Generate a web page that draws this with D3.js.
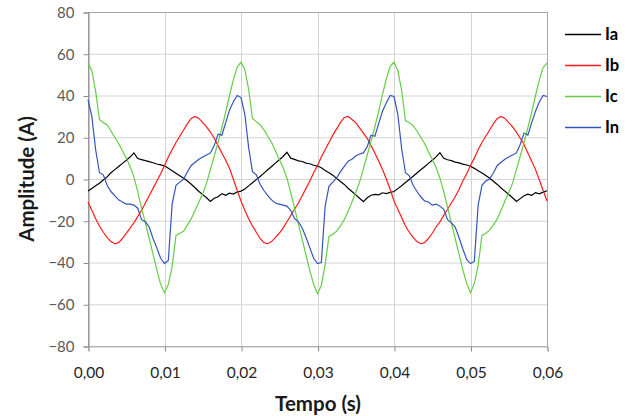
<!DOCTYPE html>
<html>
<head>
<meta charset="utf-8">
<script src="https://cdn.jsdelivr.net/npm/d3@7"></script>
<style>
  body { margin: 0; background: #fff; }
  svg { display: block; }
  text { font-family: Lato, "Liberation Sans", sans-serif; }
</style>
</head>
<body>
<div id="chart"></div>
<script>
// 数据 (t = 0 .. 0.06 s, passo 0.0005 s)
var tempo = d3.range(0, 121).map(function (i) { return i * 0.0005; });

var seriesNames = ['Ia', 'Ib', 'Ic', 'In'];
var seriesColors = ['#000000', '#ff1a1a', '#66cc44', '#3355bd'];

var ia = [
  -5.8, -4.5, -3.2, -2, -0.5, 1, 3, 4.5, 6, 7.5, 9, 10.5, 12.5, 9.8, 9.3, 8.8, 8.3, 7.8, 7.2, 6.8,
  6.3, 5.2, 4, 2.8, 1.6, 0.4, -1, -2.5, -4.2, -6, -7.5, -9, -10.8, -9.2, -8.5, -7, -7.8, -6.8, -7.2, -6.2,
  -5.8, -4.8, -3.3, -1.8, -0.3, 1.2, 2.8, 4.4, 6, 7.6, 9.2, 10.8, 12.8, 10, 9.4, 8.7, 8.4, 7.6, 7.3, 6.6,
  6.2, 5.4, 4.1, 3, 1.8, 0.3, -1.2, -2.6, -4.4, -6, -7.6, -9.2, -10.9, -9, -7.8, -7.4, -7.6, -6.6, -7, -6.4,
  -6, -4.6, -3.2, -1.7, -0.2, 1.3, 2.9, 4.4, 5.9, 7.5, 9, 10.6, 12.6, 9.9, 9.2, 8.8, 8.1, 7.7, 7.1, 6.7,
  6.1, 5.1, 4, 2.9, 1.7, 0.4, -1.1, -2.6, -4.3, -5.8, -7.4, -9, -10.8, -9.4, -8, -7.3, -7.8, -6.5, -7.1, -6.3,
  -5.6
];
var ib = [
  -11, -15, -19, -22.5, -25.5, -28, -30, -31, -30.5, -28.5, -26, -23.5, -21, -18, -15, -11.5, -8, -4.5, -1, 2.5,
  6.5, 10.5, 14, 17.5, 20.5, 23.5, 26.5, 29, 30, 29, 27, 25, 22.5, 19.5, 16, 12.5, 9, 5, 0, -5.5,
  -10.5, -15, -19, -22.5, -25.5, -28.5, -30.5, -31, -30, -28, -26, -23.5, -20.5, -17.5, -14.5, -11.5, -8, -4.5, -1, 3,
  6.5, 10.5, 14, 17.5, 21, 24, 27, 29.5, 30, 28.5, 27, 24.5, 22, 19.5, 16, 12.5, 8.5, 4.5, 0, -5,
  -10.5, -14.5, -18.5, -22.5, -25.5, -28, -30, -31, -30.5, -28.5, -26, -23, -20.5, -17.5, -14.5, -11.5, -8.5, -5, -1, 2.5,
  6.5, 10, 14, 17.5, 20.5, 23.5, 26.5, 29, 30, 29, 27, 25, 22.5, 19.5, 16.5, 12.5, 8.5, 4.5, -0.5, -5.5,
  -10.5
];
var ic = [
  55.5, 52, 42, 28.5, 27, 26, 23, 20, 17, 13.5, 10, 6, 1, -6, -14, -21, -28.5, -36, -43.5, -50.5,
  -54.5, -50.5, -42, -27, -26, -25, -22, -19, -15, -11, -7, -2, 4.5, 11, 17.5, 24.5, 32, 40, 47.5, 53.5,
  56, 52.5, 43, 29, 27.5, 26, 23.5, 20.5, 17.5, 13.5, 9.5, 5.5, 0.5, -6.5, -14, -21.5, -29, -36.5, -44, -50.5,
  -55, -51, -41, -27.5, -26.5, -25, -22.5, -19.5, -15.5, -11, -6.5, -1.5, 5, 11.5, 18, 25, 32.5, 40.5, 48, 54,
  56, 52, 42.5, 28, 27, 25.5, 23, 20, 17, 13, 9.5, 5.5, 0.5, -6, -13.5, -21, -28.5, -36, -43.5, -50,
  -54.5, -50, -41.5, -27, -26, -24.5, -22, -19, -15, -10.5, -6.5, -2, 4.5, 11, 17.5, 24.5, 32, 40, 47.5, 53.5,
  55.5
];
var inn = [
  38, 30, 14, 3, 2, -3, -6, -8, -10, -11, -12, -12, -12.5, -14, -19.5, -20.5, -23, -28.5, -33, -38,
  -40.5, -39, -12, -3, -1.5, 0, 3.5, 6.5, 8, 9.5, 10.5, 11.5, 12.5, 16, 21.5, 21, 27, 33, 37, 40,
  39, 31, 15, 3.5, 2, -2.5, -5.5, -8, -10, -11.5, -12, -12.5, -13, -15, -19, -20.5, -23.5, -28, -33, -38,
  -40.5, -40, -13, -3.5, -1.5, 0.5, 3.5, 6, 8.5, 9.5, 11, 12, 12.5, 15.5, 21, 20.5, 26.5, 32.5, 36.5, 40,
  39.5, 31, 14.5, 3, 1.5, -3, -6, -8.5, -10.5, -11, -12.5, -12, -13, -14.5, -19.5, -21, -23, -28, -33.5, -38.5,
  -40.5, -39.5, -12.5, -3, -1, 0, 3, 6.5, 8, 9.5, 10.5, 11.5, 12.5, 16.5, 22, 21, 27, 32.5, 37, 40,
  39.5
];

var xTicks = [0, 0.01, 0.02, 0.03, 0.04, 0.05, 0.06];
var yTicks = [-80, -60, -40, -20, 0, 20, 40, 60, 80];

var width = 635, height = 416;
var margin = { top: 12, right: 88, bottom: 70, left: 88 };
var plotW = width - margin.left - margin.right;
var plotH = height - margin.top - margin.bottom;

var svg = d3.select('#chart').append('svg')
  .attr('width', width)
  .attr('height', height);

var x = d3.scaleLinear().domain([0, 0.06]).range([0, plotW]);
var y = d3.scaleLinear().domain([-80, 80]).range([plotH, 0]);

var g = svg.append('g')
  .attr('transform', 'translate(' + margin.left + ',' + margin.top + ')');

// grelha
g.append('g')
  .selectAll('line')
  .data(yTicks)
  .enter()
  .append('line')
  .attr('x1', 0).attr('x2', plotW)
  .attr('y1', function (d) { return y(d) + 0.5; })
  .attr('y2', function (d) { return y(d) + 0.5; })
  .attr('stroke', '#d4d4d4');
g.append('g')
  .selectAll('line')
  .data(xTicks)
  .enter()
  .append('line')
  .attr('y1', 0).attr('y2', plotH)
  .attr('x1', function (d) { return Math.round(x(d)) + 0.5; })
  .attr('x2', function (d) { return Math.round(x(d)) + 0.5; })
  .attr('stroke', '#d4d4d4');

// borda
g.append('rect')
  .attr('x', 0.5).attr('y', 0.5)
  .attr('width', plotW).attr('height', plotH)
  .attr('fill', 'none')
  .attr('stroke', '#a6a6a6');

// eixos
var yAxis = g.append('g')
  .attr('transform', 'translate(0.5,0.5)')
  .call(d3.axisLeft(y).tickValues(yTicks).tickSize(5).tickPadding(9)
    .tickFormat(d3.format('d')));
yAxis.select('.domain').attr('stroke', '#8c8c8c');
yAxis.selectAll('.tick line').attr('stroke', '#8c8c8c');
yAxis.selectAll('text')
  .attr('fill', '#5a5a5a')
  .style('font-size', '15px');

var xAxis = g.append('g')
  .attr('transform', 'translate(0.5,' + (plotH + 0.5) + ')')
  .call(d3.axisBottom(x).tickValues(xTicks).tickSize(5).tickPadding(15)
    .tickFormat(function (d) { return d.toFixed(2).replace('.', ','); }));
xAxis.select('.domain').attr('stroke', '#bfbfbf');
xAxis.selectAll('.tick line').attr('stroke', '#8c8c8c');
xAxis.selectAll('text')
  .attr('fill', '#262626')
  .style('font-size', '15.5px');

// títulos
svg.append('text')
  .attr('transform', 'translate(34,179) rotate(-90)')
  .attr('text-anchor', 'middle')
  .style('font-size', '20.5px')
  .style('font-weight', 'bold')
  .attr('fill', '#1a1a1a')
  .text('Amplitude (A)');
svg.append('text')
  .attr('x', 318)
  .attr('y', 411)
  .attr('text-anchor', 'middle')
  .style('font-size', '20.5px')
  .style('font-weight', 'bold')
  .attr('fill', '#1a1a1a')
  .text('Tempo (s)');

// linhas
var series = [ia, ib, ic, inn];
var line = d3.line()
  .x(function (d, i) { return x(tempo[i]); })
  .y(function (d) { return y(d); });

g.selectAll('path.serie')
  .data(series)
  .enter()
  .append('path')
  .attr('class', 'serie')
  .attr('fill', 'none')
  .attr('stroke-width', 1.2)
  .attr('stroke', function (d, i) { return seriesColors[i]; })
  .attr('d', line);

// legenda
var leg = svg.append('g')
  .attr('transform', 'translate(565,34)');
var item = leg.selectAll('g')
  .data(seriesNames)
  .enter()
  .append('g')
  .attr('transform', function (d, i) { return 'translate(0,' + (i * 31) + ')'; });
item.append('line')
  .attr('x1', 0).attr('x2', 36)
  .attr('y1', 0.5).attr('y2', 0.5)
  .attr('stroke-width', 1.5)
  .attr('stroke', function (d, i) { return seriesColors[i]; });
item.append('text')
  .attr('x', 40)
  .attr('y', 6)
  .style('font-size', '16.5px')
  .style('font-weight', 'bold')
  .attr('fill', '#000')
  .text(function (d) { return d; });
</script>
</body>
</html>
